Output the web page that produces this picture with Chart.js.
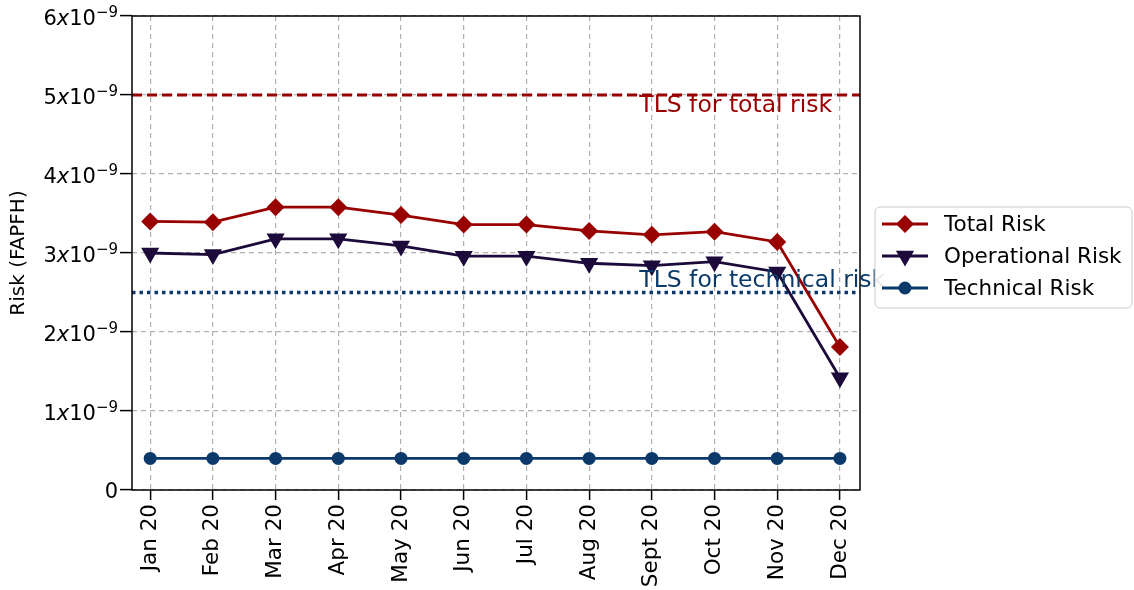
<!DOCTYPE html>
<html>
<head>
<meta charset="utf-8">
<script src="https://cdn.jsdelivr.net/npm/chart.js@4/dist/chart.umd.min.js"></script>
<style>
  html, body { margin: 0; padding: 0; background: #fff; }
  canvas { display: block; }
</style>
</head>
<body>
<canvas id="chart" width="1134" height="590"></canvas>
<script>
// data (values in FAPFH)
const months = ['Jan 20', 'Feb 20', 'Mar 20', 'Apr 20', 'May 20', 'Jun 20',
  'Jul 20', 'Aug 20', 'Sept 20', 'Oct 20', 'Nov 20', 'Dec 20'];
const totalRisk = [3.40e-9, 3.39e-9, 3.58e-9, 3.58e-9, 3.48e-9, 3.36e-9,
  3.36e-9, 3.28e-9, 3.23e-9, 3.27e-9, 3.14e-9, 1.81e-9];
const operationalRisk = [3.00e-9, 2.98e-9, 3.18e-9, 3.18e-9, 3.09e-9, 2.96e-9,
  2.96e-9, 2.87e-9, 2.84e-9, 2.89e-9, 2.76e-9, 1.42e-9];
const technicalRisk = [0.4e-9, 0.4e-9, 0.4e-9, 0.4e-9, 0.4e-9, 0.4e-9,
  0.4e-9, 0.4e-9, 0.4e-9, 0.4e-9, 0.4e-9, 0.4e-9];
const tlsTotal = 5e-9;
const tlsTechnical = 2.5e-9;
const yTicks = [0, 1e-9, 2e-9, 3e-9, 4e-9, 5e-9, 6e-9];

const X_MIN = -0.29, X_MAX = 11.32;
const RED = '#990000', PURPLE = '#1c0a3b', BLUE = '#0b3a6a';
const FONT = 'DejaVu Sans';

const series = values => values.map((y, i) => ({ x: i, y }));
const hline = y => [{ x: X_MIN, y }, { x: X_MAX, y }];

// y tick labels in the 6x10^-9 style
const sciTicks = {
  id: 'sciTicks',
  afterDraw(chart) {
    const { ctx, scales: { y } } = chart;
    const right = 118;
    ctx.save();
    ctx.fillStyle = '#000';
    ctx.textBaseline = 'alphabetic';
    yTicks.forEach(v => {
      const py = y.getPixelForValue(v);
      const m = Math.round(v / 1e-9);
      if (m === 0) {
        ctx.font = `21px "${FONT}"`;
        ctx.textAlign = 'right';
        ctx.fillText('0', right, py + 8);
        return;
      }
      const parts = [
        { t: String(m), f: `21px "${FONT}"`, dy: 9 },
        { t: 'x', f: `italic 21px "${FONT}"`, dy: 9 },
        { t: '10', f: `21px "${FONT}"`, dy: 9 },
        { t: '\u22129', f: `15px "${FONT}"`, dy: 1 }
      ];
      let w = 0;
      parts.forEach(p => { ctx.font = p.f; p.w = ctx.measureText(p.t).width; w += p.w; });
      let x = right - w;
      ctx.textAlign = 'left';
      parts.forEach(p => { ctx.font = p.f; ctx.fillText(p.t, x, py + p.dy); x += p.w; });
    });
    ctx.restore();
  }
};

// frame around the plot area + threshold labels
const frameAndText = {
  id: 'frameAndText',
  afterDatasetsDraw(chart) {
    const { ctx, chartArea: a, scales: { x, y } } = chart;
    ctx.save();
    ctx.font = `23.5px "${FONT}"`;
    ctx.textAlign = 'left';
    ctx.textBaseline = 'alphabetic';
    ctx.fillStyle = RED;
    ctx.fillText('TLS for total risk', x.getPixelForValue(7.8), y.getPixelForValue(4.78e-9));
    ctx.fillStyle = BLUE;
    ctx.fillText('TLS for technical risk', x.getPixelForValue(7.8), y.getPixelForValue(2.57e-9));
    ctx.strokeStyle = '#000';
    ctx.lineWidth = 1.5;
    ctx.strokeRect(a.left, a.top, a.right - a.left, a.bottom - a.top);
    ctx.restore();
  }
};

// matplotlib-like legend box
const boxLegend = {
  id: 'boxLegend',
  afterDraw(chart) {
    const { ctx } = chart;
    const bx = 875, by = 207, bw = 257, bh = 101, r = 5;
    ctx.save();
    ctx.beginPath();
    ctx.roundRect(bx, by, bw, bh, r);
    ctx.fillStyle = 'rgba(255,255,255,0.9)';
    ctx.fill();
    ctx.strokeStyle = '#cccccc';
    ctx.lineWidth = 1;
    ctx.stroke();
    chart.data.datasets.slice(0, 3).forEach((ds, i) => {
      const cy = 224 + i * 32;
      ctx.strokeStyle = ds.borderColor;
      ctx.lineWidth = ds.borderWidth;
      ctx.beginPath();
      ctx.moveTo(882, cy);
      ctx.lineTo(928, cy);
      ctx.stroke();
      ctx.fillStyle = ds.borderColor;
      Chart.helpers.drawPoint(ctx, {
        pointStyle: ds.pointStyle, radius: ds.pointRadius, rotation: ds.pointRotation || 0,
        borderWidth: 0
      }, 905, cy);
      ctx.fillStyle = '#000';
      ctx.font = `21.5px "${FONT}"`;
      ctx.textAlign = 'left';
      ctx.textBaseline = 'middle';
      ctx.fillText(ds.label, 944, cy + 1);
    });
    ctx.restore();
  }
};

new Chart(document.getElementById('chart'), {
  type: 'line',
  data: {
    datasets: [
      {
        label: 'Total Risk', data: series(totalRisk),
        borderColor: RED, backgroundColor: RED, borderWidth: 2.8,
        pointStyle: 'rectRot', pointRadius: 9, pointBackgroundColor: RED, pointBorderWidth: 0
      },
      {
        label: 'Operational Risk', data: series(operationalRisk),
        borderColor: PURPLE, backgroundColor: PURPLE, borderWidth: 2.8,
        pointStyle: 'triangle', pointRotation: 180, pointRadius: 10.5,
        pointBackgroundColor: PURPLE, pointBorderWidth: 0
      },
      {
        label: 'Technical Risk', data: series(technicalRisk),
        borderColor: BLUE, backgroundColor: BLUE, borderWidth: 2.8,
        pointStyle: 'circle', pointRadius: 6.5, pointBackgroundColor: BLUE, pointBorderWidth: 0
      },
      {
        label: 'TLS total', data: hline(tlsTotal),
        borderColor: RED, borderWidth: 3, borderDash: [10, 5], pointRadius: 0
      },
      {
        label: 'TLS technical', data: hline(tlsTechnical),
        borderColor: BLUE, borderWidth: 3.5, borderDash: [3.5, 4], pointRadius: 0
      }
    ]
  },
  options: {
    responsive: false,
    animation: false,
    layout: { padding: { top: 16, right: 274, left: 0, bottom: 0 } },
    plugins: { legend: { display: false }, tooltip: { enabled: false } },
    scales: {
      x: {
        type: 'linear', min: X_MIN, max: X_MAX,
        afterBuildTicks: s => { s.ticks = months.map((m, i) => ({ value: i })); },
        afterFit: s => { s.height = 100; },
        ticks: {
          callback: v => months[v], color: '#000',
          font: { family: FONT, size: 21.5 }, minRotation: 90, maxRotation: 90, padding: 4
        },
        grid: {
          color: '#b0b0b0', lineWidth: 1.2, tickColor: '#000', tickLength: 10,
          tickWidth: 1.5, tickBorderDash: []
        },
        border: { display: false, dash: [5, 4] }
      },
      y: {
        min: 0, max: 6e-9,
        afterBuildTicks: s => { s.ticks = yTicks.map(v => ({ value: v })); },
        afterFit: s => { s.width = 132; },
        ticks: { color: 'rgba(0,0,0,0)', font: { family: FONT, size: 20 }, callback: () => '' },
        grid: {
          color: '#b0b0b0', lineWidth: 1.2, tickColor: '#000', tickLength: 12,
          tickWidth: 1.5, tickBorderDash: []
        },
        border: { display: false, dash: [5, 4] },
        title: {
          display: true, text: 'Risk (FAPFH)', color: '#000',
          font: { family: FONT, size: 20 }, padding: { top: 7, bottom: 0 }
        }
      }
    }
  },
  plugins: [frameAndText, sciTicks, boxLegend]
});
</script>
</body>
</html>
